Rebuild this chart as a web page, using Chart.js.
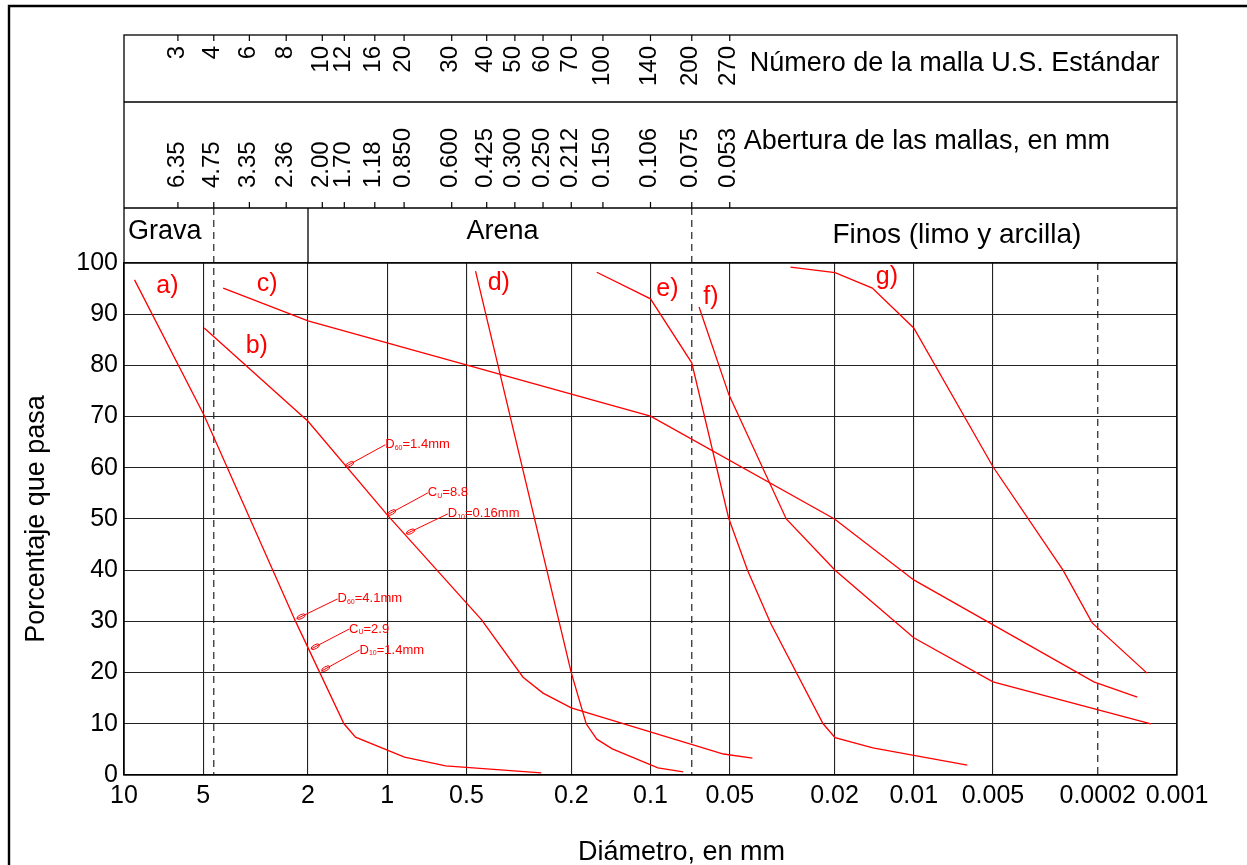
<!DOCTYPE html>
<html>
<head>
<meta charset="utf-8">
<script src="https://cdn.jsdelivr.net/npm/chart.js@4.4.0/dist/chart.umd.min.js"></script>
<style>
html, body { margin: 0; padding: 0; background: #fff; }
canvas { display: block; }
</style>
</head>
<body>
<canvas id="myChart" width="1247" height="865"></canvas>
<script>
// numeros de malla y aberturas (mm) de la cabecera
var sieveNumbers = ['3', '4', '6', '8', '10', '12', '16', '20', '30', '40', '50', '60', '70', '100', '140', '200', '270'];
var sieveOpenings = ['6.35', '4.75', '3.35', '2.36', '2.00', '1.70', '1.18', '0.850', '0.600', '0.425', '0.300', '0.250', '0.212', '0.150', '0.106', '0.075', '0.053'];
// donde cae cada marca de malla sobre la escala de diametros
var sieveTickD = [6.24, 4.56, 3.34, 2.42, 1.765, 1.456, 1.115, 0.863, 0.569, 0.419, 0.3275, 0.256, 0.2, 0.1516, 0.1, 0.0697, 0.05];

// eje x (diametro, mm) - el original dice 0.0002 en lugar de 0.002
var tickValues = [10, 5, 2, 1, 0.5, 0.2, 0.1, 0.05, 0.02, 0.01, 0.005, 0.002, 0.001];
var tickLabels = ['10', '5', '2', '1', '0.5', '0.2', '0.1', '0.05', '0.02', '0.01', '0.005', '0.0002', '0.001'];

// limites grava / arena / finos (mallas 4 y 200) y limo / arcilla
var classLimits = [4.56, 0.0697];
var clayLimit = 0.002;

// curvas granulometricas: diametro (mm) y porcentaje que pasa
var curveA_d = [9.12, 4.97, 2.23, 1.46, 1.32, 0.86, 0.6, 0.26];
var curveA_p = [96.7, 70.3, 30.0, 10.0, 7.4, 3.5, 1.8, 0.4];

var curveB_d = [4.96, 2.0, 1.0, 0.438, 0.305, 0.256, 0.2, 0.0528, 0.041];
var curveB_p = [87.3, 69.1, 50.8, 30.3, 19.1, 16.0, 13.1, 4.1, 3.3];

var curveC_d = [4.2, 2.0, 0.1, 0.02, 0.01, 0.00207, 0.001415];
var curveC_p = [95.1, 88.7, 70.1, 50.0, 38.1, 18.2, 15.2];

var curveD_d = [0.462, 0.2, 0.1755, 0.160, 0.1397, 0.0937, 0.0751];
var curveD_p = [98.4, 20.0, 10.0, 7.0, 5.1, 1.4, 0.6];

var curveE_d = [0.160, 0.1, 0.0697, 0.0505, 0.0428, 0.035, 0.0221, 0.0199, 0.0143, 0.00626];
var curveE_p = [98.2, 93.0, 80.5, 50.2, 40.0, 29.7, 10.0, 7.3, 5.3, 1.95];

var curveF_d = [0.0654, 0.0503, 0.0305, 0.0199, 0.01, 0.005, 0.001256];
var curveF_p = [91.4, 74.2, 50.0, 40.0, 26.8, 18.2, 10.0];

var curveG_d = [0.0294, 0.0199, 0.01437, 0.01, 0.005, 0.00271, 0.0021, 0.0013];
var curveG_p = [99.2, 98.1, 95.1, 87.3, 60.2, 40.0, 29.7, 19.9];

// nombres de las curvas
var curveNames = ['a)', 'b)', 'c)', 'd)', 'e)', 'f)', 'g)'];
var nameD = [6.84, 3.13, 2.86, 0.377, 0.0862, 0.059, 0.01264];
var nameP = [95.5, 83.8, 95.9, 96.1, 94.9, 93.4, 97.3];

// notas D60, Cu, D10 (punto en la curva -> texto)
var noteMain = ['D', 'C', 'D', 'D', 'C', 'D'];
var noteSub = ['60', 'U', '10', '60', 'U', '10'];
var noteRest = ['=4.1mm', '=2.9', '=1.4mm', '=1.4mm', '=8.8', '=0.16mm'];
var notePtD = [2.21, 1.95, 1.779, 1.444, 1.0, 0.848];
var notePtP = [30.5, 24.6, 20.3, 60.2, 50.8, 47.1];
var noteLabD = [1.544, 1.397, 1.274, 1.017, 0.701, 0.589];
var noteLabP = [34.4, 28.5, 24.4, 64.5, 55.1, 51.0];

var FONT = "'Liberation Sans', Arial, sans-serif";
var RED = '#ff0000';

function toPoints(ds, ps) {
  var out = [];
  for (var i = 0; i < ds.length; i++) {
    out.push({ x: ds[i], y: ps[i] });
  }
  return out;
}

var allCurves = [
  [curveA_d, curveA_p], [curveB_d, curveB_p], [curveC_d, curveC_p], [curveD_d, curveD_p],
  [curveE_d, curveE_p], [curveF_d, curveF_p], [curveG_d, curveG_p]
];

var datasets = allCurves.map(function (c, i) {
  return {
    label: curveNames[i],
    data: toPoints(c[0], c[1]),
    borderColor: RED,
    borderWidth: 1.3,
    pointRadius: 0,
    tension: 0,
    fill: false
  };
});

function vline(ctx, x, y0, y1, dash) {
  ctx.save();
  ctx.setLineDash(dash || []);
  ctx.beginPath();
  ctx.moveTo(x, y0);
  ctx.lineTo(x, y1);
  ctx.stroke();
  ctx.restore();
}

var sheetPlugin = {
  id: 'sheet',
  beforeDraw: function (chart) {
    var ctx = chart.ctx;
    ctx.save();
    ctx.fillStyle = '#fff';
    ctx.fillRect(0, 0, chart.width, chart.height);
    ctx.restore();
  },
  beforeDatasetsDraw: function (chart) {
    var ctx = chart.ctx, a = chart.chartArea, sx = chart.scales.x;
    ctx.save();
    ctx.strokeStyle = '#222';
    ctx.lineWidth = 1.2;
    // lineas de division (punteadas)
    classLimits.forEach(function (v) {
      vline(ctx, sx.getPixelForValue(v), 208, a.bottom, [7, 5]);
    });
    vline(ctx, sx.getPixelForValue(clayLimit), a.top, a.bottom, [7, 5]);
    ctx.restore();
  },
  afterDraw: function (chart) {
    var ctx = chart.ctx, a = chart.chartArea, sx = chart.scales.x, sy = chart.scales.y;
    var L = a.left, R = a.right;
    var r0 = 35, r1 = 102, r2 = 208, r3 = a.top;
    ctx.save();

    // marco exterior
    ctx.strokeStyle = '#000';
    ctx.lineWidth = 2.4;
    ctx.beginPath();
    ctx.moveTo(9, chart.height + 5);
    ctx.lineTo(9, 6);
    ctx.lineTo(chart.width + 5, 6);
    ctx.stroke();

    // cajas de la cabecera y borde del grafico
    ctx.lineWidth = 1.3;
    ctx.strokeRect(L, r0, R - L, a.bottom - r0);
    ctx.beginPath();
    ctx.moveTo(L, r1); ctx.lineTo(R, r1);
    ctx.moveTo(L, r2); ctx.lineTo(R, r2);
    ctx.moveTo(L, r3); ctx.lineTo(R, r3);
    ctx.stroke();
    vline(ctx, sx.getPixelForValue(2), r2, r3);

    // marcas, numeros y aberturas
    ctx.fillStyle = '#000';
    ctx.font = '24px ' + FONT;
    ctx.textBaseline = 'middle';
    for (var i = 0; i < sieveOpenings.length; i++) {
      var px = sx.getPixelForValue(sieveTickD[i]);
      ctx.lineWidth = 1.2;
      ctx.beginPath();
      ctx.moveTo(px, r0); ctx.lineTo(px, r0 + 6);
      ctx.moveTo(px, r2 - 6); ctx.lineTo(px, r2);
      ctx.stroke();

      ctx.save();
      ctx.translate(px - 1, 46);
      ctx.rotate(-Math.PI / 2);
      ctx.textAlign = 'right';
      ctx.fillText(sieveNumbers[i], 0, 0);
      ctx.restore();

      ctx.save();
      ctx.translate(px - 1, 188);
      ctx.rotate(-Math.PI / 2);
      ctx.textAlign = 'left';
      ctx.fillText(sieveOpenings[i], 0, 0);
      ctx.restore();
    }

    var last = sx.getPixelForValue(sieveTickD[sieveTickD.length - 1]);
    ctx.font = '27px ' + FONT;
    ctx.textAlign = 'left';
    ctx.fillText('Número de la malla U.S. Estándar', last + 20, 64);
    ctx.fillText('Abertura de las mallas, en mm', last + 14, 142);

    ctx.fillText('Grava', L + 4, 232);
    ctx.fillText('Arena', sx.getPixelForValue(0.5), 232);
    ctx.font = '28px ' + FONT;
    ctx.fillText('Finos (limo y arcilla)', sx.getPixelForValue(0.02) - 2, 235);

    ctx.font = '27px ' + FONT;
    ctx.textAlign = 'center';
    ctx.fillText('Diámetro, en mm', (L + R) / 2 + 31, 853);

    // nombres de las curvas
    ctx.fillStyle = RED;
    ctx.font = '25px ' + FONT;
    for (var k = 0; k < curveNames.length; k++) {
      ctx.fillText(curveNames[k], sx.getPixelForValue(nameD[k]), sy.getPixelForValue(nameP[k]));
    }

    // notas con lineas de referencia
    ctx.strokeStyle = RED;
    ctx.lineWidth = 1;
    ctx.textAlign = 'left';
    for (var n = 0; n < noteMain.length; n++) {
      var x0 = sx.getPixelForValue(notePtD[n]), y0 = sy.getPixelForValue(notePtP[n]);
      var x1 = sx.getPixelForValue(noteLabD[n]), y1 = sy.getPixelForValue(noteLabP[n]);
      ctx.beginPath();
      ctx.moveTo(x0, y0);
      ctx.lineTo(x1, y1);
      ctx.stroke();
      var ang = Math.atan2(y1 - y0, x1 - x0);
      ctx.beginPath();
      ctx.ellipse(x0 + Math.cos(ang) * 5, y0 + Math.sin(ang) * 5, 4.5, 2, ang, 0, Math.PI * 2);
      ctx.stroke();

      var tx = x1;
      ctx.font = '13px ' + FONT;
      ctx.fillText(noteMain[n], tx, y1);
      tx += ctx.measureText(noteMain[n]).width;
      ctx.font = '7px ' + FONT;
      ctx.fillText(noteSub[n], tx, y1 + 3);
      tx += ctx.measureText(noteSub[n]).width;
      ctx.font = '13px ' + FONT;
      ctx.fillText(noteRest[n], tx, y1);
    }
    ctx.restore();
  }
};

var config = {
  type: 'line',
  data: { datasets: datasets },
  options: {
    responsive: false,
    animation: false,
    layout: { padding: { top: 263, right: 70, bottom: 0, left: 0 } },
    plugins: { legend: { display: false }, tooltip: { enabled: false } },
    scales: {
      x: {
        type: 'logarithmic',
        reverse: true,
        min: 0.001,
        max: 10,
        afterBuildTicks: function (scale) {
          scale.ticks = tickValues.map(function (v) { return { value: v }; });
        },
        afterFit: function (scale) { scale.height = 90; },
        ticks: {
          autoSkip: false,
          maxRotation: 0,
          padding: 6,
          color: '#000',
          font: { family: FONT, size: 25 },
          callback: function (value, index) { return tickLabels[index]; }
        },
        grid: {
          drawTicks: false,
          lineWidth: 1.1,
          color: function (c) {
            if (c.tick && Math.abs(c.tick.value - clayLimit) < 1e-9) return 'rgba(0,0,0,0)';
            return '#222';
          }
        },
        border: { display: true, color: '#000', width: 1.3 }
      },
      y: {
        type: 'linear',
        min: 0,
        max: 100,
        afterFit: function (scale) { scale.width = 124; },
        ticks: {
          stepSize: 10,
          padding: 6,
          color: '#000',
          font: { family: FONT, size: 25 }
        },
        grid: { drawTicks: false, lineWidth: 1.1, color: '#222' },
        border: { display: true, color: '#000', width: 1.3 },
        title: {
          display: true,
          text: 'Porcentaje que pasa',
          color: '#000',
          font: { family: FONT, size: 27 },
          padding: { top: 20, bottom: 0 }
        }
      }
    }
  },
  plugins: [sheetPlugin]
};

var myChart = new Chart(document.getElementById('myChart'), config);
</script>
</body>
</html>
